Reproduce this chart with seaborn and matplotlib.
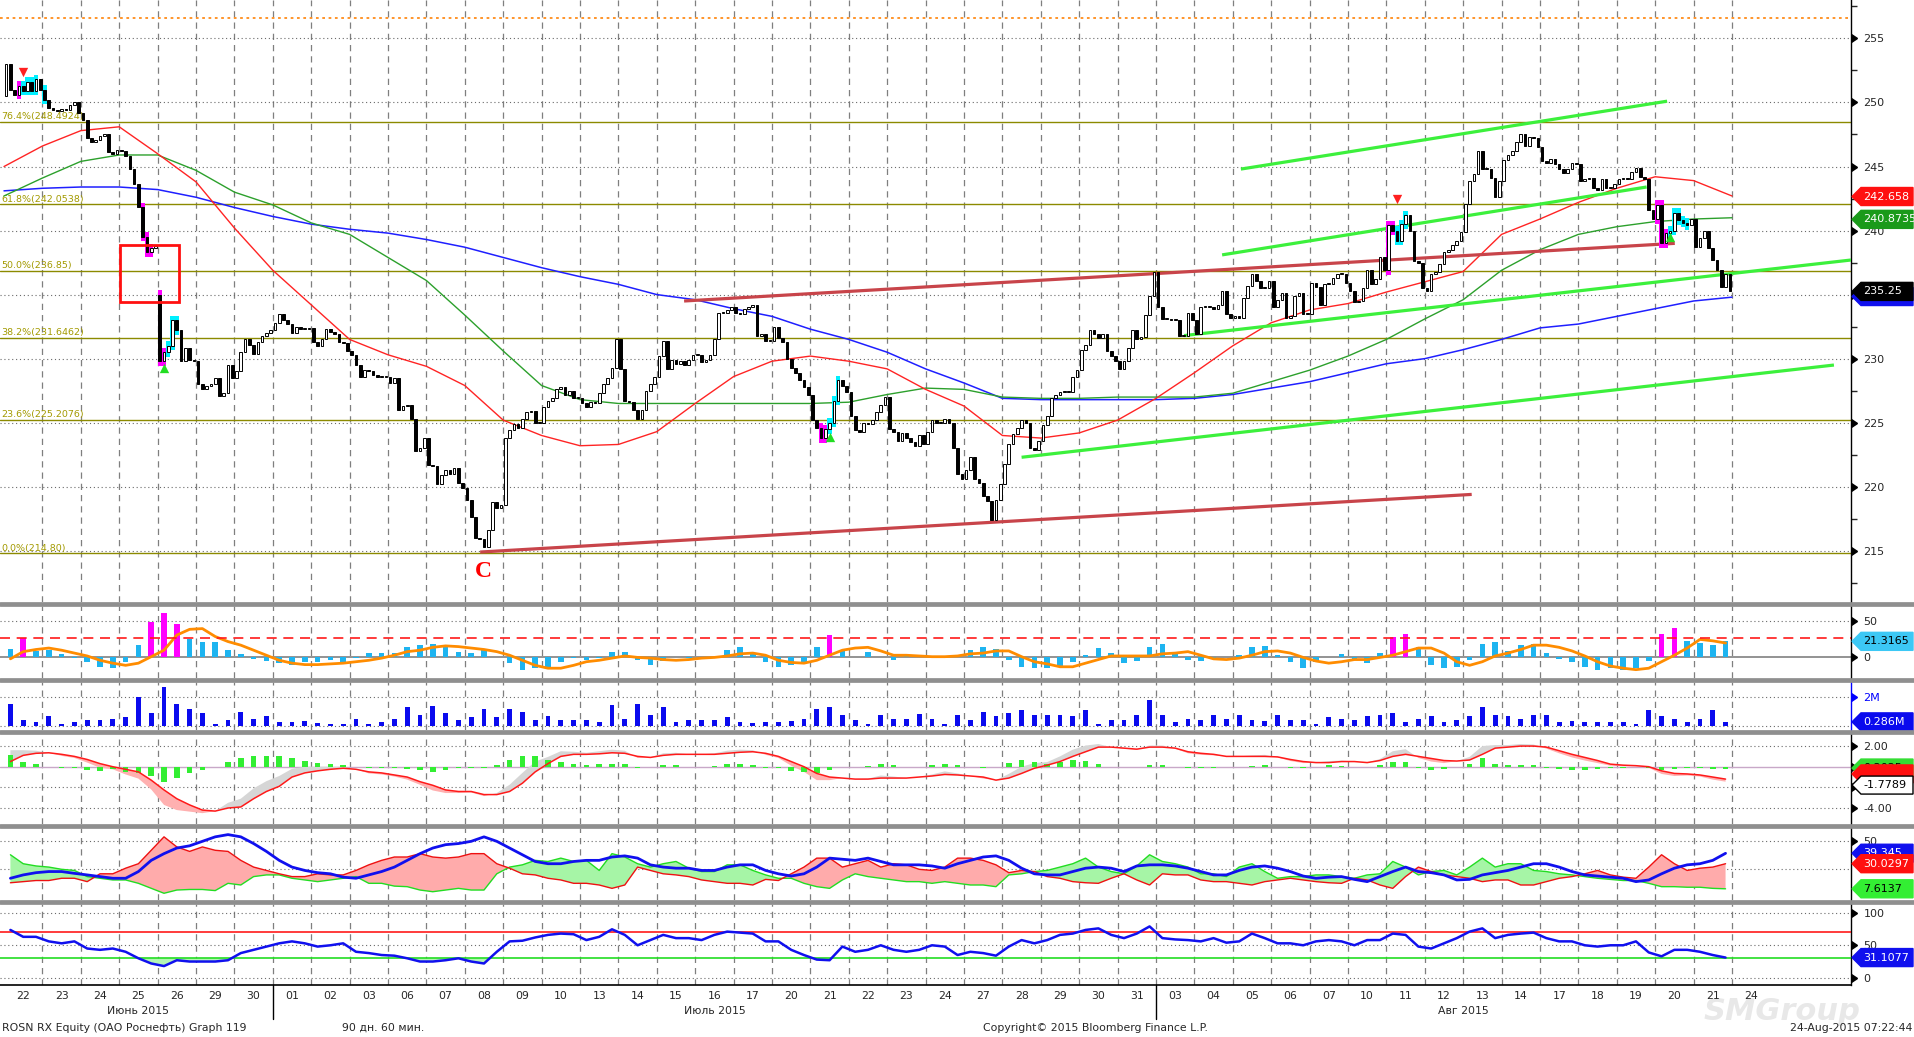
import numpy as np
import matplotlib
matplotlib.use("Agg")
import matplotlib.pyplot as plt
import matplotlib.transforms as mtransforms
from matplotlib.patches import Polygon, Rectangle
from matplotlib.lines import Line2D
import seaborn as sns

# ---------------- data ----------------
# hourly closes, 9 bars per trading day (22 Jun .. 21 Aug 2015)
close_days = [
    [253.0, 251.0, 250.6, 251.3, 250.9, 251.6, 250.9, 251.8, 251.0],
    [250.2, 249.6, 249.4, 249.3, 249.5, 249.4, 249.8, 250.0, 249.2],
    [248.6, 247.2, 246.9, 247.1, 247.4, 247.5, 246.1, 246.0, 246.3],
    [246.2, 245.8, 244.8, 243.6, 241.8, 239.5, 238.3, 238.6, 238.8],
    [229.8, 230.5, 231.0, 233.0, 232.2, 229.8, 230.8, 229.9, 229.8],
    [228.0, 227.6, 227.9, 228.0, 228.5, 227.1, 227.3, 229.5, 228.5],
    [229.0, 230.5, 231.5, 231.1, 230.4, 231.3, 231.8, 232.0, 232.2],
    [232.8, 233.5, 233.0, 232.7, 232.0, 232.5, 232.3, 232.3, 232.4],
    [231.3, 231.0, 231.5, 232.3, 232.1, 231.9, 231.3, 231.2, 230.6],
    [230.3, 229.5, 228.6, 229.1, 229.0, 228.7, 228.6, 228.6, 228.6],
    [228.1, 228.5, 226.0, 226.3, 226.4, 225.3, 222.8, 223.0, 223.8],
    [221.7, 221.6, 220.2, 220.9, 221.3, 221.0, 221.5, 220.3, 219.9],
    [219.0, 217.6, 216.0, 215.9, 215.3, 216.6, 218.8, 218.3, 218.6],
    [223.8, 224.4, 224.9, 224.6, 225.3, 225.8, 225.9, 225.0, 225.0],
    [226.2, 226.7, 226.9, 227.6, 227.8, 227.2, 227.5, 226.9, 226.9],
    [226.5, 226.2, 226.6, 226.5, 227.3, 228.0, 228.5, 229.3, 231.5],
    [229.2, 226.7, 226.6, 226.0, 225.3, 226.0, 227.5, 228.0, 228.6],
    [230.2, 231.4, 229.2, 229.9, 229.6, 229.8, 229.5, 229.9, 230.3],
    [230.3, 229.7, 229.9, 230.3, 231.5, 233.6, 233.6, 233.8, 234.0],
    [233.6, 233.5, 233.9, 234.0, 234.2, 231.8, 231.9, 231.4, 231.4],
    [232.5, 231.6, 231.3, 230.0, 229.3, 228.9, 228.3, 227.8, 227.2],
    [225.2, 224.6, 223.8, 224.5, 225.0, 226.7, 228.3, 227.9, 227.4],
    [225.5, 224.4, 224.3, 225.0, 224.9, 225.2, 225.8, 226.4, 227.0],
    [224.5, 224.3, 223.6, 224.2, 223.8, 223.5, 223.2, 224.0, 223.3],
    [224.3, 225.2, 225.0, 225.0, 225.3, 225.0, 223.0, 221.0, 220.6],
    [221.3, 222.3, 220.6, 220.3, 219.3, 218.9, 217.4, 219.0, 220.2],
    [221.8, 223.3, 224.1, 224.6, 225.2, 225.0, 223.0, 222.9, 223.6],
    [224.8, 225.5, 226.9, 227.2, 227.4, 227.4, 227.4, 228.6, 229.1],
    [230.7, 231.1, 232.2, 231.9, 231.6, 231.9, 230.6, 230.2, 229.8],
    [229.2, 229.8, 230.8, 232.2, 231.5, 231.7, 233.4, 234.9, 236.8],
    [234.0, 233.1, 233.1, 233.0, 233.0, 231.8, 231.8, 233.6, 233.0],
    [231.9, 234.0, 234.0, 234.0, 233.9, 234.2, 235.3, 233.5, 233.2],
    [233.3, 233.2, 234.7, 235.7, 236.6, 236.1, 235.5, 235.5, 236.1],
    [234.0, 234.6, 235.1, 233.2, 233.3, 234.9, 235.1, 233.5, 233.5],
    [235.9, 235.6, 234.2, 235.8, 235.8, 236.3, 236.6, 236.6, 235.9],
    [235.3, 234.4, 234.5, 235.5, 236.9, 235.8, 236.2, 237.9, 236.9],
    [240.4, 240.0, 239.2, 240.5, 241.2, 240.0, 237.6, 237.5, 235.5],
    [235.3, 236.6, 236.8, 237.4, 238.3, 238.5, 238.9, 239.2, 239.9],
    [242.1, 243.9, 244.4, 246.2, 244.8, 244.8, 244.1, 242.6, 243.9],
    [245.5, 245.9, 246.2, 246.9, 247.5, 246.6, 247.3, 247.2, 246.5],
    [245.4, 245.3, 245.6, 245.2, 244.8, 244.5, 244.8, 245.3, 245.2],
    [243.9, 244.0, 244.1, 243.3, 243.2, 244.0, 243.3, 243.3, 243.6],
    [244.0, 244.1, 244.0, 244.6, 244.9, 244.2, 244.0, 241.6, 240.9],
    [242.0, 239.0, 239.8, 240.0, 241.4, 240.8, 240.6, 240.4, 240.9],
    [238.7, 239.4, 240.0, 238.6, 237.7, 236.9, 235.6, 236.6, 235.25],
]
first_open = 250.5
gap_opens = {36: 235.0}

magenta_bars = [3, 32, 33, 34, 36, 37, 191, 192, 324, 325, 387, 388, 389]
cyan_bars = [4, 5, 6, 7, 9, 38, 39, 40, 193, 194, 195, 326, 327, 328,
             390, 391, 392, 393, 394]
sell_marks = [(4, 252.4), (326, 242.5)]
buy_marks = [(37, 229.3), (193, 223.9), (390, 239.5)]

# moving averages at each day boundary (last point = last bar)
ma_fast = [245.0, 246.6, 247.8, 248.1, 246.0, 243.8, 240.2, 236.9, 234.2, 231.5,
           230.3, 229.4, 227.9, 225.2, 224.0, 223.2, 223.3, 224.3, 226.5, 228.6,
           229.8, 230.2, 229.8, 229.2, 227.6, 226.3, 224.0, 223.8, 224.2, 225.2,
           226.9, 228.9, 231.0, 232.8, 233.8, 234.3, 235.2, 236.0, 236.8, 239.7,
           240.9, 242.2, 243.3, 244.2, 243.9, 242.7]
ma_mid = [242.7, 244.1, 245.4, 245.9, 245.9, 244.7, 243.0, 242.0, 240.6, 239.7,
          237.9, 236.1, 233.4, 230.6, 227.9, 226.8, 226.5, 226.5, 226.5, 226.5,
          226.5, 226.5, 226.6, 227.2, 227.7, 227.6, 227.0, 226.9, 226.9, 227.0,
          227.0, 227.0, 227.3, 228.2, 229.1, 230.2, 231.5, 233.1, 234.6, 236.9,
          238.5, 239.7, 240.3, 240.7, 240.9, 241.0]
ma_slow = [243.1, 243.3, 243.4, 243.4, 243.2, 242.6, 241.8, 241.1, 240.5, 240.1,
           239.8, 239.3, 238.7, 237.9, 237.1, 236.4, 235.8, 235.0, 234.6, 233.9,
           233.3, 232.3, 231.5, 230.5, 229.2, 228.1, 226.9, 226.8, 226.8, 226.8,
           226.8, 226.9, 227.2, 227.7, 228.2, 228.9, 229.6, 230.0, 230.7, 231.5,
           232.4, 232.7, 233.3, 233.9, 234.5, 234.8]

fib_levels = [248.4924, 242.0538, 236.85, 231.6462, 225.2076, 214.80]
fib_labels = ["76.4%(248.4924)", "61.8%(242.0538)", "50.0%(236.85)",
              "38.2%(231.6462)", "23.6%(225.2076)", "0.0%(214.80)"]

# trend lines: (bar, price) -> (bar, price)
red_lines = [((111.6, 214.9), (344.0, 219.4)), ((159.4, 234.5), (391.6, 239.0))]
green_lines = [((289.9, 244.8), (389.8, 250.1)), ((285.5, 238.1), (385.0, 243.4)),
               ((276.6, 231.8), (432.9, 237.7)), ((238.5, 222.3), (428.9, 229.5))]
gap_box = (27.1, 234.4, 41.0, 238.9)
wave_label = (112.3, 213.4, "C")

# indicators, 3 readings per trading day
osc_hist = [
    10, 25.5, 8, 9, 4, -2, -7, -14, -16, -8, 16, 48, 60, 45, 24,
    21, 20, 9, 4, -3, -6, -9, -12, -8, -7, -5, -7, -2, 5, 5,
    5, 14, 16, 18, 16, 7, 5, 11, 0, -9, -18, -16, -14, -8, -2,
    -4, -2, 6, 6, -5, -12, -6, -1, -2, -2, 0, 9, 14, 5, -7,
    -14, -12, -7, 14, 30, 9, -1, 7, 0, -5, 2, 0, 1, 0, -1,
    9, 13, 11, -5, -14, -16, -16, -14, -7, 2, 12, 5, -9, -6, 13,
    17, 7, -5, -6, -3, 0, 3, 14, 15, 2, -8, -16, -7, -1, 4,
    -3, -9, 5, 28, 32, 14, -12, -16, -14, -5, 18, 20, 8, 16, 18,
    5, -3, -8, -14, -18, -16, -18, -16, -6, 32, 40, 22, 19, 16, 21.3,
]
osc_signal = [
    -3, 7, 10, 12, 9, 5, 1, -5, -9, -12, -9, 0, 9, 30, 38,
    39, 28, 21, 16, 9, 2, -5, -9, -11, -11, -10, -9, -7, -5, -2,
    2, 7, 9, 13, 15, 14, 12, 10, 7, 2, -5, -12, -16, -16, -12,
    -7, -5, -2, 1, -1, -2, -4, -5, -4, -2, -1, 1, 4, 5, 2,
    -5, -8, -9, -5, 2, 9, 12, 13, 8, 2, 2, 1, 0, 0, 1,
    4, 5, 8, 8, 0, -7, -10, -14, -14, -9, -4, 1, 1, 1, 1,
    4, 5, 7, 2, -3, -4, -2, 2, 7, 8, 5, -1, -6, -9, -7,
    -4, -4, -1, 2, 7, 12, 12, 5, -7, -12, -7, 1, 5, 10, 16,
    16, 13, 8, 1, -7, -13, -16, -18, -16, -7, 2, 12, 24, 22, 19,
]
volume_m = [
    1.5, 0.4, 0.25, 0.7, 0.15, 0.25, 0.4, 0.4, 0.5, 0.6, 2.0, 0.9, 2.7, 1.5, 1.2,
    0.9, 0.15, 0.4, 1.0, 0.5, 0.7, 0.3, 0.25, 0.35, 0.2, 0.15, 0.15, 0.5, 0.15, 0.25,
    0.5, 1.35, 0.75, 1.4, 0.9, 0.45, 0.65, 1.2, 0.65, 1.2, 1.0, 0.4, 0.7, 0.45, 0.45,
    0.45, 0.25, 1.45, 0.5, 1.5, 0.75, 1.3, 0.25, 0.4, 0.45, 0.4, 0.65, 0.25, 0.2, 0.3,
    0.25, 0.35, 0.5, 1.2, 1.3, 0.75, 0.4, 0.15, 0.75, 0.5, 0.5, 0.85, 0.5, 0.15, 0.75,
    0.45, 1.0, 0.7, 0.9, 1.1, 0.75, 0.75, 0.75, 0.7, 1.15, 0.15, 0.4, 0.4, 0.75, 1.8,
    0.75, 0.3, 0.5, 0.45, 0.75, 0.5, 0.75, 0.4, 0.35, 0.75, 0.45, 0.4, 0.15, 0.65, 0.5,
    0.4, 0.7, 0.75, 0.9, 0.3, 0.5, 0.7, 0.3, 0.4, 0.7, 1.3, 0.75, 0.7, 0.5, 0.75,
    0.75, 0.3, 0.35, 0.3, 0.25, 0.25, 0.3, 0.15, 1.1, 0.7, 0.5, 0.3, 0.5, 1.1, 0.286,
]
macd_line = [
    0.5, 1.1, 1.3, 1.35, 1.2, 1.0, 0.7, 0.3, 0.0, -0.25, -0.5, -1.3, -2.25, -3.1, -3.7,
    -4.2, -4.3, -4.0, -3.9, -3.1, -2.4, -1.9, -1.0, -0.6, -0.4, -0.25, -0.15, -0.25, -0.5, -0.6,
    -0.8, -1.0, -1.45, -1.8, -2.25, -2.4, -2.4, -2.7, -2.7, -2.4, -1.6, -0.5, 0.3, 1.0, 1.2,
    1.2, 1.25, 1.35, 1.3, 1.0, 0.9, 1.1, 1.2, 1.2, 1.2, 1.2, 1.3, 1.4, 1.45, 1.3,
    1.0, 0.5, 0.0, -0.65, -1.0, -1.1, -1.2, -1.2, -1.1, -1.1, -1.1, -1.0, -0.9, -0.75, -0.8,
    -0.9, -1.0, -1.3, -1.1, -0.65, -0.15, 0.15, 0.5, 1.0, 1.45, 1.9, 1.9, 1.8, 1.7, 1.9,
    1.9, 1.8, 1.45, 1.3, 1.2, 1.0, 1.0, 1.0, 1.0, 0.95, 0.7, 0.5, 0.4, 0.4, 0.5,
    0.5, 0.4, 0.6, 1.0, 1.2, 1.0, 0.8, 0.6, 0.55, 0.65, 1.2, 1.8, 1.9, 2.0, 2.0,
    1.9, 1.55, 1.2, 0.9, 0.6, 0.25, 0.15, 0.1, 0.0, -0.4, -0.65, -0.7, -0.8, -1.0, -1.2,
]
macd_hist = [
    1.1, 0.5, 0.25, 0, -0.15, -0.15, -0.3, -0.4, -0.25, -0.5, -0.65, -0.9, -1.45, -1.1, -0.65,
    -0.3, 0, 0.5, 0.8, 1.0, 1.0, 1.0, 0.8, 0.6, 0.4, 0.25, 0.15, 0, -0.15, -0.15,
    -0.15, -0.25, -0.3, -0.5, -0.3, -0.15, -0.1, -0.15, 0.15, 0.65, 1.0, 1.0, 0.65, 0.5, 0.25,
    0.15, 0.25, 0.3, 0.25, -0.15, 0, 0.2, 0.15, 0, 0, 0.1, 0.25, 0.25, 0.15, -0.15,
    -0.15, -0.4, -0.5, -0.65, -0.3, 0, 0, 0.05, 0.25, 0.15, 0, 0, 0.15, 0.3, 0.15,
    0, -0.15, 0, 0.4, 0.65, 0.5, 0.3, 0.5, 0.65, 0.6, 0.3, 0, -0.05, -0.05, 0.15,
    0.15, -0.05, -0.15, -0.15, -0.1, 0, 0, 0.1, 0.15, -0.05, -0.15, -0.15, 0, 0.15, 0.1,
    0, 0, 0.15, 0.5, 0.5, -0.15, -0.3, -0.25, 0, 0.3, 0.8, 0.3, 0.2, 0.2, 0.15,
    -0.15, -0.25, -0.3, -0.3, -0.25, -0.15, -0.1, -0.05, -0.1, -0.3, -0.25, -0.15, -0.15, -0.25, -0.25,
]
dmi_adx = [
    17, 20, 22, 23, 23, 21.4, 20, 18.5, 17, 17, 23, 33, 39, 44, 46,
    50, 54, 56, 54, 48, 41, 33, 27, 24, 22, 21, 18, 17, 20, 23,
    27, 33, 39, 44, 47, 48, 50, 54, 50, 44, 38, 32, 30, 30, 32,
    33, 33, 36, 37, 35, 29, 27, 26, 26, 24, 24, 27, 29, 29, 24,
    21, 19, 21, 27, 35, 34, 33, 35, 32, 29, 29, 29, 28, 26, 30,
    33, 36, 37, 33, 26, 21, 20, 20, 23, 26, 27, 26, 23, 28, 29,
    29, 28, 26, 23, 20, 20, 24, 27, 28, 26, 23, 19, 17, 18, 18.5,
    16, 14, 18.5, 23, 27, 23, 22, 20, 15.5, 16, 20, 22, 24, 27, 30,
    30, 27, 23, 20, 19, 18, 17, 14, 15.5, 21, 26, 29, 30, 33, 39.3,
]
dmi_minus = [
    13, 14, 15, 15, 17, 17, 14, 21, 21, 26, 30, 42, 54, 45, 41,
    45, 42, 41, 33, 27, 24, 21, 18.5, 18.5, 21, 20, 20, 24, 29, 33,
    36, 36, 39, 36, 35, 36, 39, 39, 30, 26, 21, 20, 17, 15.5, 12.5,
    12.5, 11, 8, 11, 27, 24, 21, 20, 18.5, 15.5, 14, 12.5, 12.5, 11, 16,
    15, 21, 27, 35, 35, 27, 30, 33, 27, 30, 29, 25, 24, 27, 35,
    35, 33, 29, 22, 24, 23, 18.5, 17, 14, 13, 12.5, 17, 21, 15.5, 11,
    21, 20, 20, 15.5, 14, 14, 12.5, 11, 14, 15.5, 17, 15.5, 14, 13, 12.5,
    17, 15.5, 11, 8, 18.5, 27, 23, 20, 18.5, 17, 14, 15.5, 15.5, 11, 11,
    14, 17, 18.5, 21, 24, 20, 18, 17, 27, 38, 30, 24, 26, 27, 30,
]
dmi_plus = [
    38, 30, 28, 27, 25, 24, 18.5, 17, 15.5, 15.5, 12.5, 8, 3.6, 6.5, 7,
    7, 6, 12.5, 11, 18.5, 20, 20, 17, 15.5, 14, 15.5, 17, 18.5, 12.5, 12.5,
    10, 9.5, 6.5, 5, 6.5, 8, 6.5, 6.5, 21, 27, 29, 33, 32, 35, 32,
    33, 24, 39, 36, 30, 27, 30, 32, 26, 23, 23, 29, 29, 24, 20,
    17, 17, 12.5, 9.5, 8, 15.5, 21, 18.5, 17, 15.5, 14, 14, 12.5, 14, 12.5,
    11, 11, 9.5, 20, 21, 23, 24, 27, 30, 35, 27, 23, 21, 28, 38,
    32, 30, 27, 21, 21, 18.5, 27, 30, 23, 17, 18.5, 18.5, 20, 20, 18.5,
    17, 20, 21, 32, 27, 20, 23, 24, 20, 27, 35, 27, 30, 30, 24,
    23, 21, 20, 18.5, 17, 16, 15, 15, 12.5, 9.5, 9.5, 9, 9, 8, 7.6,
]
rsi = [
    73.6, 63, 63, 56, 53, 56, 45, 43, 45, 40, 30, 22, 18, 27, 25,
    25, 25, 27, 38, 43, 48, 53, 56, 53, 48, 50, 53, 40, 38, 35,
    34, 30, 25, 25, 27, 30, 25, 22, 40, 56, 57, 62, 66, 68, 67,
    58, 63, 74.6, 66, 50, 58, 66, 61, 61, 58, 66, 71, 69.5, 68, 56,
    56, 43, 35, 28, 27, 48, 40, 43, 50, 43, 40, 43, 50, 48, 35,
    40, 38, 34, 48, 58, 53, 58, 66, 68, 73.6, 76, 66, 61, 68, 79,
    61, 59, 58, 56, 61, 54, 56, 68, 61, 53, 53, 50, 56, 58, 56,
    50, 58, 58, 68, 66, 48, 45, 53, 61, 71, 76, 61, 66, 68, 69.5,
    61, 56, 56, 50, 48, 50, 50, 56, 39, 33, 43, 43, 40, 35, 31.1,
]

day_labels = ["22", "23", "24", "25", "26", "29", "30",
              "01", "02", "03", "06", "07", "08", "09", "10", "13", "14", "15", "16",
              "17", "20", "21", "22", "23", "24", "27", "28", "29", "30", "31",
              "03", "04", "05", "06", "07", "10", "11", "12", "13", "14", "17", "18",
              "19", "20", "21", "24"]
months = [("Июнь 2015", 0, 7), ("Июль 2015", 7, 30), ("Авг 2015", 30, 46)]

# ---------------- layout ----------------
sns.set_style("white")
plt.rcParams["font.family"] = ["DejaVu Sans"]

W, H = 1914, 1037
AX_R = 1851
X0, X1 = -0.94, 432.9
BPD = 9  # bars per day

fig = plt.figure(figsize=(W / 100, H / 100), dpi=100)
fig.patch.set_facecolor("white")


def panel(top, bottom, ylim):
    ax = fig.add_axes([0, 1 - bottom / H, AX_R / W, (bottom - top) / H])
    ax.set_xlim(X0, X1)
    ax.set_ylim(*ylim)
    ax.set_facecolor("white")
    for s in ("top", "left", "bottom"):
        ax.spines[s].set_visible(False)
    ax.spines["right"].set_color("black")
    ax.spines["right"].set_linewidth(1.0)
    ax.set_xticks([])
    ax.yaxis.tick_right()
    ax.tick_params(axis="y", which="major", length=0, pad=9, labelsize=8)
    for k in range(1, 46):
        ax.axvline(BPD * k, color="#7f7f7f", lw=0.9, ls=(0, (5, 4)), zorder=0)
    return ax


def hgrid(ax, levels):
    for v in levels:
        ax.axhline(v, color="#6a6a6a", lw=0.8, ls=(0, (1, 2.5)), zorder=0)


def carets(ax, levels, color="black"):
    tr = mtransforms.blended_transform_factory(ax.transAxes, ax.transData)
    ax.plot([1.0] * len(levels), levels, ls="none", marker=9, ms=6, color=color,
            transform=tr, clip_on=False, zorder=20)


def tag(ax, value, text, fc, tc, ec=None, z=10):
    y = ax.transData.transform((0, value))[1]
    h = 9
    pts = [(AX_R + 1, y), (AX_R + 10, y + h), (W - 1, y + h), (W - 1, y - h), (AX_R + 10, y - h)]
    fig.add_artist(Polygon(pts, closed=True, transform=mtransforms.IdentityTransform(),
                           fc=fc, ec=ec or fc, lw=1, zorder=z))
    if text:
        fig.text((AX_R + 12) / W, y / H, text, color=tc, fontsize=8, va="center",
                 ha="left", zorder=z + 0.5)


xs = np.array([BPD * d + o for d in range(45) for o in (1.5, 4.5, 7.5)])
ma_x = np.array([BPD * k for k in range(45)] + [405])

# ---------------- main price panel ----------------
ax = panel(0, 602, (211.0, 258.0))
hgrid(ax, range(215, 256, 5))
ax.axhline(256.6, color="#ff8c1a", lw=1.3, ls=(0, (1.5, 2)), zorder=1)
for lv, lab in zip(fib_levels, fib_labels):
    ax.axhline(lv, color="#8c8a00", lw=1.0, zorder=1)
    ax.annotate(lab, (X0, lv), xytext=(1, 0.5), textcoords="offset points",
                fontsize=6.8, color="#a39a00", va="bottom", ha="left")

sns.lineplot(x=ma_x, y=ma_slow, ax=ax, color="#1f1fff", lw=1.1, estimator=None, sort=False, zorder=3)
sns.lineplot(x=ma_x, y=ma_mid, ax=ax, color="#2ca02c", lw=1.0, estimator=None, sort=False, zorder=3)
sns.lineplot(x=ma_x, y=ma_fast, ax=ax, color="#ff2424", lw=1.0, estimator=None, sort=False, zorder=3)

for (a, b) in red_lines:
    ax.plot([a[0], b[0]], [a[1], b[1]], color="#c8444a", lw=2.3, zorder=4, solid_capstyle="butt")
for (a, b) in green_lines:
    ax.plot([a[0], b[0]], [a[1], b[1]], color="#3cf03c", lw=2.3, zorder=4, solid_capstyle="butt")

closes = np.array(sum(close_days, []))
opens = np.r_[first_open, closes[:-1]]
for i, v in gap_opens.items():
    opens[i] = v
bx = np.arange(len(closes)) + 0.5
lo = np.minimum(opens, closes)
hi = np.maximum(opens, closes)
body = np.maximum(hi - lo, 0.08)
up = closes >= opens

for idx, col in ((magenta_bars, "#ff00ff"), (cyan_bars, "#00f0ff")):
    idx = np.array(idx)
    ax.bar(bx[idx], body[idx] + 0.7, bottom=lo[idx] - 0.35, width=1.0, color=col, lw=0, zorder=5)
ax.bar(bx[up], body[up], bottom=lo[up], width=0.62, color="white", edgecolor="black", lw=0.7, zorder=6)
ax.bar(bx[~up], body[~up], bottom=lo[~up], width=0.62, color="black", edgecolor="black", lw=0.7, zorder=6)

ax.scatter([bx[i] for i, _ in sell_marks], [v for _, v in sell_marks], marker="v", s=45, color="#ff2020", zorder=7, lw=0)
ax.scatter([bx[i] for i, _ in buy_marks], [v for _, v in buy_marks], marker="^", s=45, color="#22dd22", zorder=7, lw=0)

x0b, y0b, x1b, y1b = gap_box
ax.add_patch(Rectangle((x0b, y0b), x1b - x0b, y1b - y0b, fill=False, ec="#ff1010", lw=2.0, zorder=8))
ax.text(wave_label[0], wave_label[1], wave_label[2], color="#ff0000", fontsize=17, weight="bold",
        family=["Liberation Serif", "DejaVu Serif"], ha="center", va="center", zorder=8)

price_ticks = list(range(215, 256, 5))
ax.set_yticks(price_ticks)
# the 235 label sits under the last-price tag, as on the terminal
ax.set_yticklabels(["" if v == 235 else str(v) for v in price_ticks])
ax.set_yticks(np.arange(212.5, 258, 5), minor=True)
ax.tick_params(axis="y", which="minor", right=True, left=False, length=4, width=1, direction="out")
carets(ax, price_ticks)

# ---------------- oscillator ----------------
ax_o = panel(606, 678, (-29.6, 70.4))
hgrid(ax_o, [50])
ax_o.axhline(0, color="#8a8a8a", lw=1.3, zorder=1)
ax_o.axhline(25.4, color="#ff1a1a", lw=1.2, ls=(0, (6, 4)), zorder=4)
oh = np.array(osc_hist)
ax_o.bar(xs, oh, width=1.3, color=np.where(oh >= 25, "#ff00ff", "#1eb4f0"), lw=0, zorder=2)
sns.lineplot(x=xs, y=osc_signal, ax=ax_o, color="#ff8c00", lw=2.0, estimator=None, sort=False, zorder=3)
ax_o.set_yticks([50, 0])
ax_o.set_yticklabels(["50", "0"])
carets(ax_o, [50, 0])

# ---------------- volume ----------------
ax_v = panel(682, 730, (-0.28, 3.07))
hgrid(ax_v, [2.0, 0.0])
ax_v.bar(xs, volume_m, width=1.1, color="#0a0aee", lw=0, zorder=2)
ax_v.spines["right"].set_color("#0000ff")
ax_v.set_yticks([2.0])
ax_v.set_yticklabels(["2M"])
ax_v.tick_params(axis="y", labelcolor="#0000ff")
carets(ax_v, [2.0], color="#0000ff")

# ---------------- MACD ----------------
ax_m = panel(734, 824, (-5.55, 3.17))
hgrid(ax_m, [2, -2, -4])
ax_m.axhline(0, color="#c8a8c8", lw=1.0, zorder=1)
ml = np.array(macd_line)
fast = ml + np.array(macd_hist)
ax_m.fill_between(xs, ml, fast, where=fast < ml, interpolate=True, color="#ffb0b0", lw=0, zorder=2)
ax_m.fill_between(xs, ml, fast, where=fast >= ml, interpolate=True, color="#d6d6d6", lw=0, zorder=2)
ax_m.bar(xs, macd_hist, width=1.3, color="#33ee33", lw=0, zorder=3)
sns.lineplot(x=xs, y=ml, ax=ax_m, color="#ff1a1a", lw=1.1, estimator=None, sort=False, zorder=4)
ax_m.set_yticks([2, -4])
ax_m.set_yticklabels(["2.00", "-4.00"])
carets(ax_m, [2, 0, -2, -4])

# ---------------- DMI ----------------
ax_d = panel(828, 900, (-2.4, 61.9))
hgrid(ax_d, [50, 25])
mi = np.array(dmi_minus)
pl = np.array(dmi_plus)
ax_d.fill_between(xs, mi, pl, where=pl >= mi, interpolate=True, color="#a6f5a6", lw=0, zorder=2)
ax_d.fill_between(xs, mi, pl, where=pl < mi, interpolate=True, color="#ffabab", lw=0, zorder=2)
sns.lineplot(x=xs, y=pl, ax=ax_d, color="#22dd22", lw=1.0, estimator=None, sort=False, zorder=3)
sns.lineplot(x=xs, y=mi, ax=ax_d, color="#ee1111", lw=1.0, estimator=None, sort=False, zorder=3)
sns.lineplot(x=xs, y=dmi_adx, ax=ax_d, color="#1010ee", lw=2.0, estimator=None, sort=False, zorder=4)
ax_d.set_yticks([50])
ax_d.set_yticklabels(["50"])
carets(ax_d, [50])

# ---------------- RSI ----------------
ax_r = panel(904, 985, (-11.1, 113.5))
hgrid(ax_r, [100, 50, 0])
rs = np.array(rsi)
ax_r.fill_between(xs, rs, 30, where=rs < 30, interpolate=True, color="#b4f5b4", lw=0, zorder=2)
ax_r.axhline(70, color="#ff1a1a", lw=1.2, zorder=3)
ax_r.axhline(30, color="#22dd22", lw=1.2, zorder=3)
sns.lineplot(x=xs, y=rs, ax=ax_r, color="#1010ee", lw=1.8, estimator=None, sort=False, zorder=4)
ax_r.set_yticks([100, 50, 0])
ax_r.set_yticklabels(["100", "50", "0"])
carets(ax_r, [100, 50, 0])

for a in (ax, ax_o, ax_v, ax_m, ax_d, ax_r):
    a.set_xlabel("")
    a.set_ylabel("")

# ---------------- right-hand value tags ----------------
tag(ax, 242.658, "242.658", "#ff1010", "white")
tag(ax, 240.8735, "240.8735", "#1a9a1a", "white")
tag(ax, 234.85, "", "#1010ee", "white", z=10)
tag(ax, 235.25, "235.25", "black", "white", z=11)
tag(ax_o, 21.3165, "21.3165", "#3cc8f5", "black")
tag(ax_v, 0.286, "0.286M", "#0a0aee", "white")
tag(ax_m, -0.13, "0.2025", "#33dd33", "black", z=10)
tag(ax_m, -0.7, "", "#ff1010", "white", z=11)
tag(ax_m, -1.7789, "-1.7789", "white", "black", ec="black", z=12)
tag(ax_d, 39.345, "39.345", "#1010ee", "white", z=10)
tag(ax_d, 30.0297, "30.0297", "#ff1010", "white", z=11)
tag(ax_d, 7.6137, "7.6137", "#33ee33", "black", z=11)
tag(ax_r, 31.1077, "31.1077", "#1010ee", "white")

# ---------------- separators, date axis, footer ----------------
for y in (604, 680, 732, 826, 902):
    fig.add_artist(Line2D([0, 1], [1 - y / H] * 2, transform=fig.transFigure,
                          color="#8f8f8f", lw=3.4, zorder=15))
fig.add_artist(Line2D([0, AX_R / W], [1 - 985 / H] * 2, transform=fig.transFigure,
                      color="black", lw=1.2, zorder=15))

tr = mtransforms.blended_transform_factory(ax_r.transData, fig.transFigure)
for d, lab in enumerate(day_labels):
    ax_r.text(BPD * d + 4.5, 1 - 996 / H, lab, transform=tr, ha="center", va="center", fontsize=7.8)
for name, d0, d1 in months:
    ax_r.text(BPD * (d0 + d1) / 2, 1 - 1011 / H, name, transform=tr, ha="center", va="center", fontsize=7.8)
    if d0 > 0:
        ax_r.plot([BPD * d0] * 2, [1 - 985 / H, 1 - 1019 / H], transform=tr, color="black",
                  lw=1.0, clip_on=False)

fig.text(2 / W, 1 - 1028 / H, "ROSN RX Equity (ОАО Роснефть) Graph 119", fontsize=7.8, va="center")
fig.text(342 / W, 1 - 1028 / H, "90 дн. 60 мин.", fontsize=7.8, va="center")
fig.text(983 / W, 1 - 1028 / H, "Copyright© 2015 Bloomberg Finance L.P.", fontsize=7.8, va="center")
fig.text(1912 / W, 1 - 1028 / H, "24-Aug-2015 07:22:44", fontsize=7.8, va="center", ha="right")
fig.text(1782 / W, 1 - 1012 / H, "SMGroup", fontsize=22, color="#e8e8e8", ha="center",
         va="center", style="italic", weight="bold", zorder=-1)

fig.savefig("out.png", dpi=100)
